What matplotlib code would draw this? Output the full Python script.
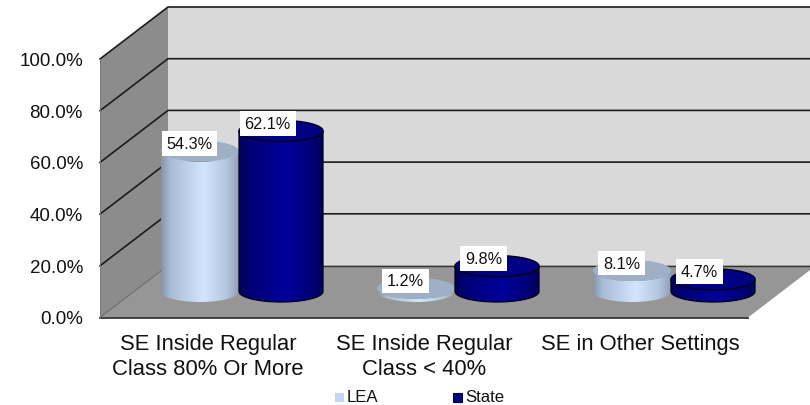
import numpy as np
import matplotlib
matplotlib.use("Agg")
import matplotlib.pyplot as plt
from matplotlib.colors import LinearSegmentedColormap
from matplotlib.patches import Ellipse, Polygon, Rectangle

categories = ["SE Inside Regular\nClass 80% Or More", "SE Inside Regular\nClass < 40%", "SE in Other Settings"]
lea_values = [54.3, 1.2, 8.1]
state_values = [62.1, 9.8, 4.7]
y_ticks = [0, 20, 40, 60, 80, 100]
series_names = ["LEA", "State"]

plt.rcParams['font.family'] = ['Liberation Sans', 'DejaVu Sans']
fig = plt.figure(figsize=(8.1, 4.06), dpi=100)
ax = fig.add_axes([0, 0, 1, 1])
ax.set_xlim(0, 810); ax.set_ylim(406, 0); ax.axis("off")

X0, X1, Y0, UNIT = 100, 748, 318.5, 2.585
DX, DY = 68, 52
XR = 810

def yf(v):
    return Y0 - UNIT * v

WALL, SIDE, FLOOR = "#d9d9d9", "#8c8c8c", "#969696"
GRID = "#1c1c1c"
ymax = max(y_ticks)
ax.add_patch(Polygon([(X0 + DX, yf(0) - DY), (XR, yf(0) - DY), (XR, yf(ymax) - DY), (X0 + DX, yf(ymax) - DY)], fc=WALL, ec="none", zorder=1))
ax.add_patch(Polygon([(X0, yf(0)), (X0 + DX, yf(0) - DY), (X0 + DX, yf(ymax) - DY), (X0, yf(ymax))], fc=SIDE, ec="none", zorder=1))
ax.add_patch(Polygon([(X0, yf(0)), (X1, yf(0)), (X1 + DX, yf(0) - DY), (X0 + DX, yf(0) - DY)], fc=FLOOR, ec="none", zorder=1))
for t in y_ticks:
    if t > 0:
        ax.plot([X0, X0 + DX, XR], [yf(t), yf(t) - DY, yf(t) - DY], color=GRID, lw=1.2, zorder=2, solid_joinstyle="miter")
    ax.text(83, yf(t) + 1.5, f"{t:.1f}%", ha="right", va="center", fontsize=13.5, color="#111111", zorder=6)
ax.plot([X0, X0 + DX], [yf(0), yf(0) - DY], color="#666666", lw=0.7, zorder=2)
ax.plot([X0 + DX, XR], [yf(0) - DY] * 2, color="#333333", lw=1.0, zorder=2)
ax.plot([X0, X1], [yf(0), yf(0)], color="#333333", lw=1.3, zorder=2)
ax.plot([X0, X0], [yf(0), yf(ymax)], color="#777777", lw=0.7, zorder=2)

lea_cmap = LinearSegmentedColormap.from_list("lea", [(0, "#8495ab"), (0.12, "#a9bbd4"), (0.55, "#d2e5ff"), (0.85, "#b2c5df"), (1, "#8f9fb4")])
state_cmap = LinearSegmentedColormap.from_list("state", [(0, "#00005a"), (0.15, "#000078"), (0.55, "#00009c"), (0.85, "#000078"), (1, "#000058")])

def cylinder(cx, w, v, cmap, top, edge, z):
    ry = 10.5
    base = 292.5
    ty = base - UNIT * v
    th = np.linspace(0, np.pi, 60)
    xs = cx + w / 2 * np.cos(th)
    lower = base + ry * np.sin(th)
    upper = ty + ry * np.sin(th)
    pts = np.r_[np.c_[xs, lower], np.c_[xs[::-1], upper[::-1]]]
    clip = Polygon(pts, closed=True, fc="none", ec="none", zorder=z)
    ax.add_patch(clip)
    grad = np.linspace(0, 1, 256)[None, :]
    im = ax.imshow(grad, extent=(cx - w / 2, cx + w / 2, base + ry, ty), cmap=cmap, aspect="auto", zorder=z, interpolation="bilinear")
    im.set_clip_path(clip)
    if edge:
        ax.add_patch(Polygon(pts, closed=True, fc="none", ec=edge, lw=0.9, zorder=z + 0.2))
    ax.add_patch(Ellipse((cx, ty), w, 2 * ry, fc=top, ec=edge if edge else "none", lw=1.1 if edge else 0, zorder=z + 0.3))

CENTERS = X0 + (np.arange(len(categories)) + 0.5) * (X1 - X0) / len(categories)
for i, c in enumerate(CENTERS):
    cylinder(c - 8, 78, lea_values[i], lea_cmap, "#9fb0c6", None, 3 + i)
    cylinder(c + 73, 84, state_values[i], state_cmap, "#000084", "#00001e", 3.5 + i)
    for v, dx in ((lea_values[i], -18.5), (state_values[i], 59.5)):
        ly = 292.5 - UNIT * v - 7.5
        ax.text(c + dx, ly, f"{v:.1f}%", ha="center", va="center", fontsize=11.7, color="#111111", zorder=8,
                bbox=dict(boxstyle="square,pad=0.3", fc="white", ec="none"))
    ax.text(c, 334, categories[i], ha="center", va="top", fontsize=15.8, color="#111111", linespacing=1.24, zorder=6)

for name, x, col in zip(series_names, (339, 457), ("#c4d7f2", "#000084")):
    ax.add_patch(Rectangle((x - 4.5, 393.5), 9, 9, fc=col, ec="#00001e" if name == "State" else "none", lw=0.8, zorder=6))
    ax.text(x + 8, 398, name, ha="left", va="center", fontsize=12.1, color="#111111", zorder=6)

ax.set_xlim(0, 810); ax.set_ylim(406, 0)
fig.savefig("out.png", dpi=100, facecolor="white")
